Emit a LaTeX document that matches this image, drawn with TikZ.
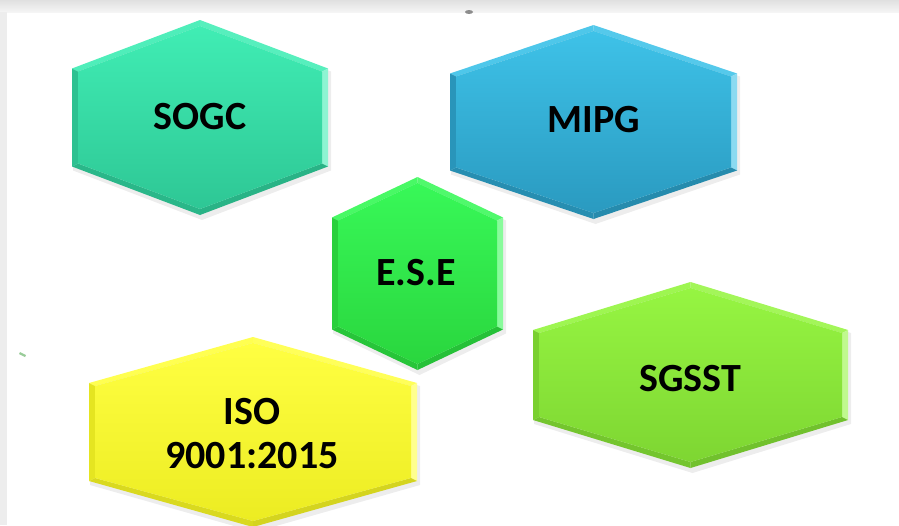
\documentclass[tikz,border=0pt]{standalone}
\usepackage{fontspec}
\setmainfont{Carlito}
\definecolor{sogcTop}{HTML}{40EDB4}
\definecolor{sogcBot}{HTML}{2EC795}
\definecolor{mipgTop}{HTML}{3EC2E8}
\definecolor{mipgBot}{HTML}{2A9AC0}
\definecolor{eseTop}{HTML}{38F858}
\definecolor{eseBot}{HTML}{2AD63E}
\definecolor{isoTop}{HTML}{FFFF42}
\definecolor{isoBot}{HTML}{ECEC22}
\definecolor{sgsstTop}{HTML}{96F542}
\definecolor{sgsstBot}{HTML}{7ED632}
\tikzset{
  hexlabel/.style={font=\fontsize{40}{44}\selectfont\bfseries, text=black,
    align=center, inner sep=0pt},
}
% Bevelled hexagon: #1,#2 centre; #3 half width; #4 half height (vertex);
% #5 half height of the vertical sides; #6 top colour; #7 bottom colour
\newcommand\bevelhex[7]{%
  \begin{scope}[shift={(#1,#2)}]
    \coordinate (oT)  at (0,-#4);
    \coordinate (oUR) at (#3,-#5);
    \coordinate (oLR) at (#3,#5);
    \coordinate (oB)  at (0,#4);
    \coordinate (oLL) at (-#3,#5);
    \coordinate (oUL) at (-#3,-#5);
    \coordinate (iT)  at (0,-#4+6);
    \coordinate (iUR) at (#3-6,-#5+3);
    \coordinate (iLR) at (#3-6,#5-3);
    \coordinate (iB)  at (0,#4-6);
    \coordinate (iLL) at (-#3+6,#5-3);
    \coordinate (iUL) at (-#3+6,-#5+3);
    % soft shadow
    \fill[black, opacity=0.07] ([xshift=2pt,yshift=-3pt]oT) -- ([xshift=3pt,yshift=-3pt]oUR)
      -- ([xshift=3pt,yshift=-4pt]oLR) -- ([xshift=2pt,yshift=-5pt]oB)
      -- ([xshift=1pt,yshift=-4pt]oLL) -- ([xshift=1pt,yshift=-3pt]oUL) -- cycle;
    % bevel facets
    \fill[#6!92!white] (oUL) -- (oT) -- (iT) -- (iUL) -- cycle;
    \fill[#6!88!white] (oT) -- (oUR) -- (iUR) -- (iT) -- cycle;
    \fill[#6!60!white] (oUR) -- (oLR) -- (iLR) -- (iUR) -- cycle;
    \fill[#7!90!black] (oLR) -- (oB) -- (iB) -- (iLR) -- cycle;
    \fill[#7!92!black] (oB) -- (oLL) -- (iLL) -- (iB) -- cycle;
    \fill[#7!97!black] (oLL) -- (oUL) -- (iUL) -- (iLL) -- cycle;
    % face
    \shade[top color=#6, bottom color=#7]
      (iT) -- (iUR) -- (iLR) -- (iB) -- (iLL) -- (iUL) -- cycle;
  \end{scope}}
\begin{document}
\begin{tikzpicture}[x=1pt, y=-1pt]
  \useasboundingbox (0,0) rectangle (899,525);
  \clip (0,0) rectangle (899,525);
  % page background with the window frame
  \fill[white] (0,0) rectangle (899,525);
  \shade[top color=black!12, bottom color=black!4] (0,0) rectangle (899,12);
  \fill[black!7] (0,12) rectangle (7,525);
  \fill[black!45] (469,12) ellipse (4pt and 2pt);
  \fill[green!50!black!40] (20,352) -- (26,355) -- (25,357) -- (19,354) -- cycle;

  % hexagons
  \bevelhex{200}{117.5}{128}{97.5}{49}{sogcTop}{sogcBot}
  \bevelhex{593.5}{122}{143.5}{97}{48.5}{mipgTop}{mipgBot}
  \bevelhex{417.5}{273.5}{85.5}{96.5}{56}{eseTop}{eseBot}
  \bevelhex{253}{432}{164}{95}{49}{isoTop}{isoBot}
  \bevelhex{690.5}{375}{157.5}{93}{45}{sgsstTop}{sgsstBot}

  % labels
  \node[hexlabel] (sogc)  at (200,117)   {SOGC};
  \node[hexlabel] (mipg)  at (594,120)   {MIPG};
  \node[hexlabel] (ese)   at (416,273)   {E.S.E};
  \node[hexlabel] (iso)   at (252,434)   {ISO\\9001:2015};
  \node[hexlabel] (sgsst) at (690,379)   {SGSST};
\end{tikzpicture}
\end{document}
